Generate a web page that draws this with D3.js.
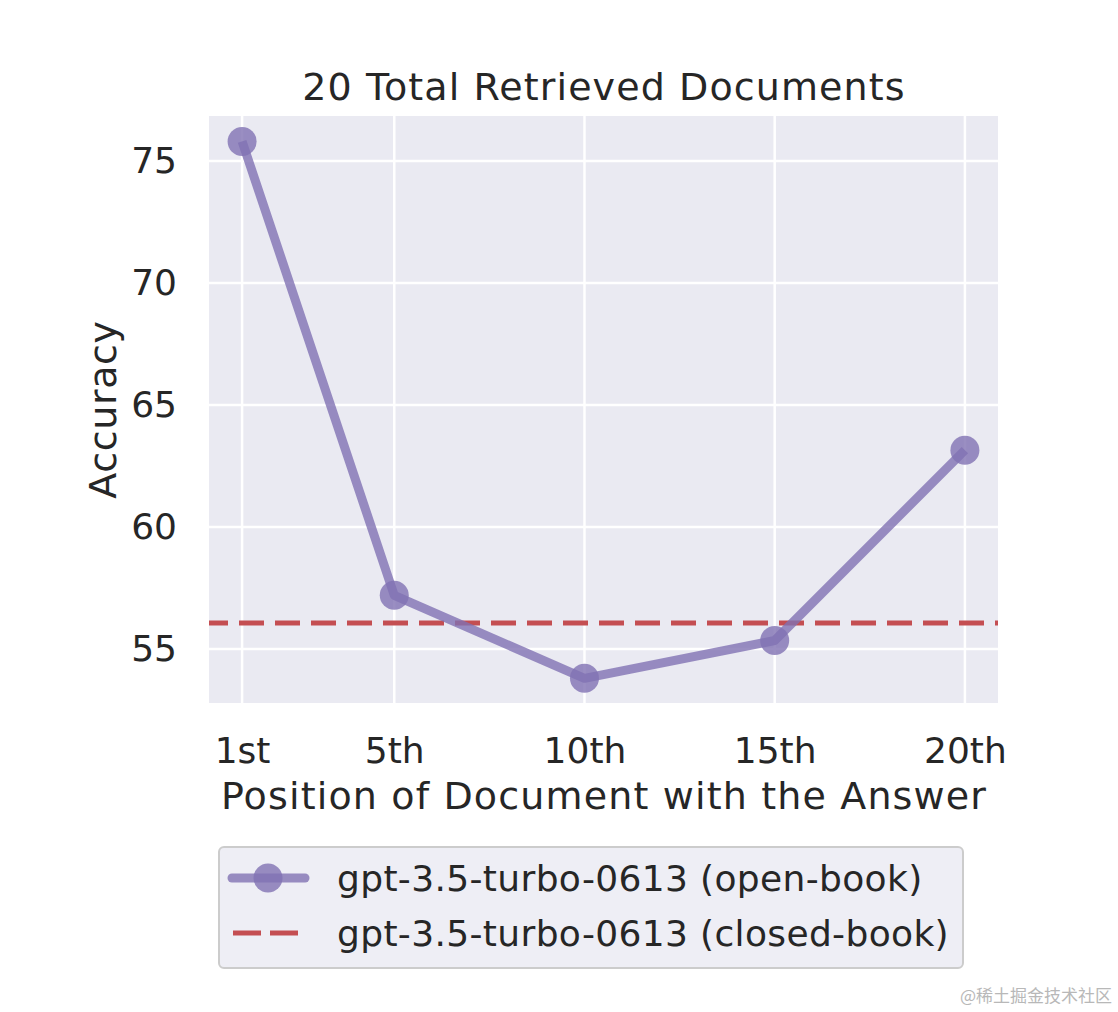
<!DOCTYPE html>
<html lang="en">
<head>
  <script src="https://d3js.org/d3.v7.min.js"></script>
  <style>
    body { margin: 0; background: white; }
    svg text { font-family: "DejaVu Sans", sans-serif; fill: #262626; }
  </style>
</head>
<body>
<div id="chart"></div>
<script>
  // positions of the answer document and accuracies
  var positions = [1, 5, 10, 15, 20];
  var tickLabels = ["1st", "5th", "10th", "15th", "20th"];
  var openBook = [75.8, 57.2, 53.8, 55.35, 63.15];
  var closedBook = 56.07;
  var yTicks = [55, 60, 65, 70, 75];
  var seriesNames = ["gpt-3.5-turbo-0613 (open-book)", "gpt-3.5-turbo-0613 (closed-book)"];

  var W = 1118, H = 1012;
  var margin = {top: 116, right: 120, bottom: 309, left: 209};
  var width = W - margin.left - margin.right,
      height = H - margin.top - margin.bottom;

  var svg = d3.select("#chart").append("svg")
      .attr("width", W)
      .attr("height", H)
      .style("background-color", "white");

  var g = svg.append("g")
      .attr("transform", "translate(" + margin.left + "," + margin.top + ")");

  var x = d3.scaleLinear().domain([0.13, 20.87]).range([0, width]);
  var y = d3.scaleLinear().domain([52.79, 76.84]).range([height, 0]);

  g.append("rect")
      .attr("width", width).attr("height", height)
      .attr("fill", "#eaeaf2");

  // grid
  g.selectAll(".hgrid").data(yTicks).enter().append("line")
      .attr("x1", 0).attr("x2", width)
      .attr("y1", d => y(d)).attr("y2", d => y(d))
      .attr("stroke", "white").attr("stroke-width", 2.5);
  g.selectAll(".vgrid").data(positions).enter().append("line")
      .attr("y1", 0).attr("y2", height)
      .attr("x1", d => x(d)).attr("x2", d => x(d))
      .attr("stroke", "white").attr("stroke-width", 2.5);

  // axes (no ticks, seaborn style)
  var xAxis = d3.axisBottom(x).tickValues(positions)
      .tickFormat((d, i) => tickLabels[i]).tickSize(0).tickPadding(34);
  var yAxis = d3.axisLeft(y).tickValues(yTicks).tickSize(0).tickPadding(32);

  var gX = g.append("g").attr("transform", "translate(0," + height + ")").call(xAxis);
  var gY = g.append("g").call(yAxis);
  [gX, gY].forEach(function(a) {
    a.select(".domain").remove();
    a.selectAll("text").style("font-size", "36px").style("font-family", "DejaVu Sans").attr("fill", "#262626");
  });

  // closed-book baseline
  g.append("line")
      .attr("x1", 0).attr("x2", width)
      .attr("y1", y(closedBook)).attr("y2", y(closedBook))
      .attr("stroke", "#c44e52").attr("stroke-width", 5)
      .attr("stroke-dasharray", "25,11")
      .attr("stroke-dashoffset", 6);

  // open-book line
  var line = d3.line().x((d, i) => x(positions[i])).y(d => y(d));
  g.append("path")
      .datum(openBook)
      .attr("d", line)
      .attr("fill", "none")
      .attr("stroke", "#8172b3")
      .attr("stroke-opacity", 0.8)
      .attr("stroke-width", 9)
      .attr("stroke-linejoin", "round");

  g.selectAll(".dot").data(openBook).enter().append("circle")
      .attr("cx", (d, i) => x(positions[i]))
      .attr("cy", d => y(d))
      .attr("r", 14.5)
      .attr("fill", "#8172b3")
      .attr("fill-opacity", 0.8);

  // titles
  svg.append("text")
      .attr("x", 604).attr("y", 100)
      .attr("text-anchor", "middle")
      .style("font-size", "38px")
      .style("letter-spacing", "1.1px")
      .text("20 Total Retrieved Documents");

  svg.append("text")
      .attr("x", 604).attr("y", 809)
      .attr("text-anchor", "middle")
      .style("font-size", "38px")
      .style("letter-spacing", "1.15px")
      .text("Position of Document with the Answer");

  svg.append("text")
      .attr("transform", "translate(116," + (margin.top + height / 2) + ") rotate(-90)")
      .attr("text-anchor", "middle")
      .style("font-size", "38px")
      .style("letter-spacing", "0.6px")
      .text("Accuracy");

  // legend
  var lg = svg.append("g").attr("transform", "translate(219,847)");
  lg.append("rect")
      .attr("width", 744).attr("height", 121)
      .attr("rx", 5)
      .attr("fill", "#eaeaf2").attr("fill-opacity", 0.8)
      .attr("stroke", "#cccccc").attr("stroke-width", 2);

  lg.append("line")
      .attr("x1", 13).attr("x2", 86).attr("y1", 31).attr("y2", 31)
      .attr("stroke", "#8172b3").attr("stroke-opacity", 0.8)
      .attr("stroke-width", 9).attr("stroke-linecap", "round");
  lg.append("circle")
      .attr("cx", 49).attr("cy", 31).attr("r", 14.5)
      .attr("fill", "#8172b3").attr("fill-opacity", 0.8);
  lg.append("line")
      .attr("x1", 14).attr("x2", 88).attr("y1", 86).attr("y2", 86)
      .attr("stroke", "#c44e52").attr("stroke-width", 5)
      .attr("stroke-dasharray", "28,9");

  lg.selectAll(".ltext").data(seriesNames).enter().append("text")
      .attr("x", 118)
      .attr("y", (d, i) => 44 + i * 55)
      .style("font-size", "36px")
      .style("letter-spacing", "0.35px")
      .text(d => d);

  // watermark
  svg.append("text")
      .attr("x", 1112).attr("y", 1002)
      .attr("text-anchor", "end")
      .style("font-family", "Noto Sans CJK SC")
      .style("font-size", "17px")
      .style("fill", "#b8b8b8")
      .text("@稀土掘金技术社区");
</script>
</body>
</html>
